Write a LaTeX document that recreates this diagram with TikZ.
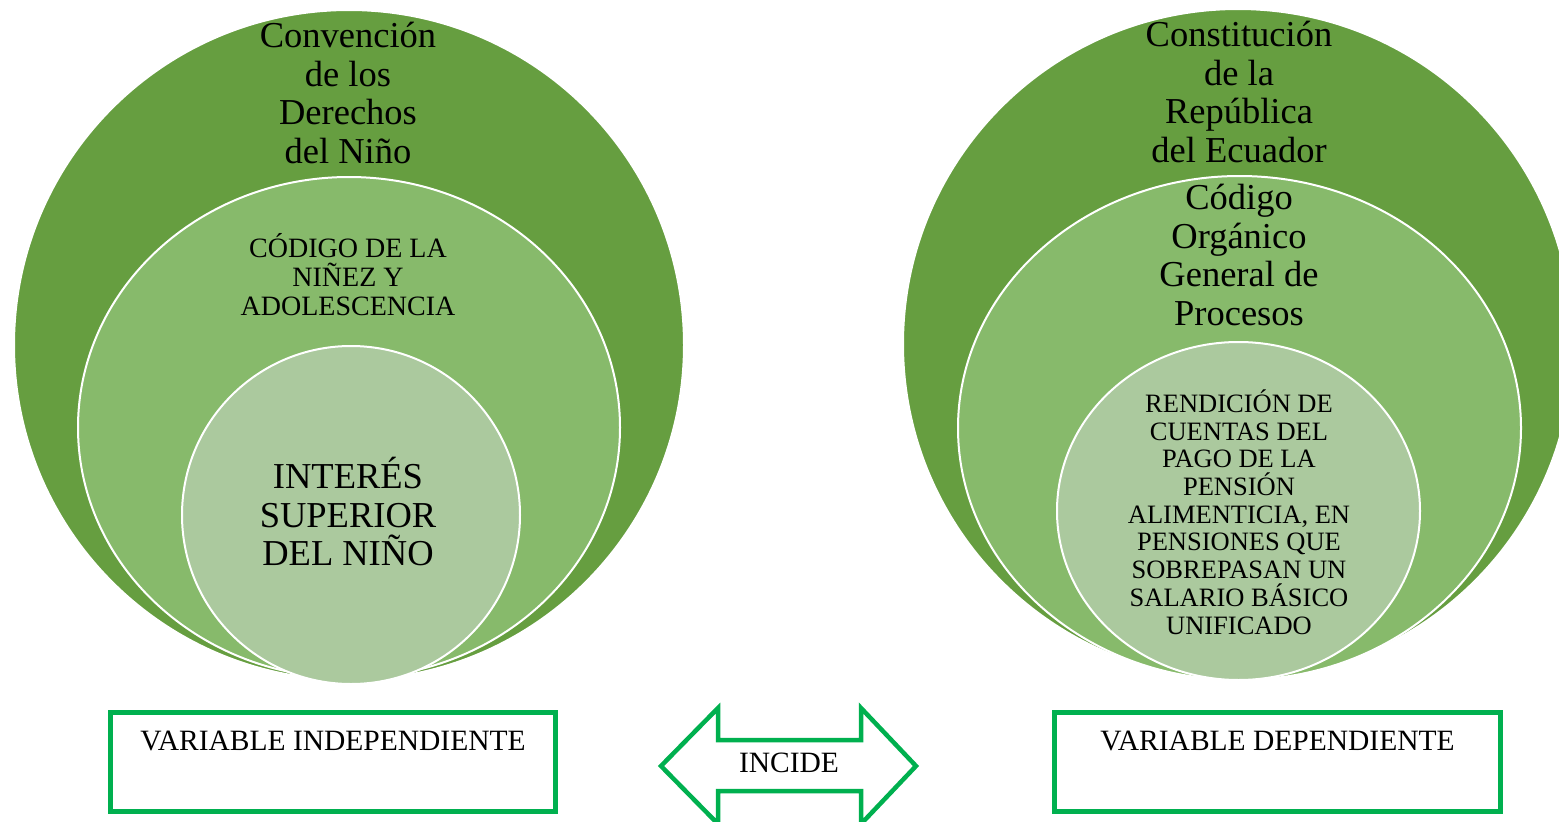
\documentclass[tikz,border=0pt]{standalone}
\usepackage{fontspec}
\setmainfont{Liberation Serif}
\usepackage{xcolor}
\usepackage{tikz}
\usetikzlibrary{shapes.geometric}
\definecolor{myDarkGreen}{rgb}{0.40,0.62,0.25}
\definecolor{myMidGreen}{rgb}{0.53,0.73,0.42}
\definecolor{myLightGreen}{rgb}{0.67,0.79,0.62}
\definecolor{myBoxGreen}{rgb}{0.0,0.69,0.31}

\begin{document}
\begin{tikzpicture}[x=1pt,y=-1pt,semithick]
  \tikzstyle{ring}=[ellipse,draw=white,line width=2pt,inner sep=0pt]
  \tikzstyle{outer}=[ring,fill=myDarkGreen]
  \tikzstyle{middle}=[ring,fill=myMidGreen]
  \tikzstyle{inner}=[ring,fill=myLightGreen]
  \tikzstyle{big}=[align=center,inner sep=0pt,font=\fontsize{36.5}{38.5}\selectfont]
  \tikzstyle{mid}=[align=center,inner sep=0pt,font=\fontsize{28}{29}\selectfont]
  \tikzstyle{small}=[align=center,inner sep=0pt,font=\fontsize{26.5}{27.7}\selectfont]
  \tikzstyle{varbox}=[rectangle,draw=myBoxGreen,line width=5pt,fill=white]
  \tikzstyle{vartext}=[inner sep=0pt,font=\fontsize{29.5}{31}\selectfont]

  \clip (0,0) rectangle (1559,822);

  % left circles
  \node[outer,  minimum width=670pt, minimum height=670pt] (convL) at (349,345) {};
  \node[middle, minimum width=542pt, minimum height=501pt] (codL)  at (349,427.5) {};
  \node[inner,  minimum width=338pt, minimum height=338pt] (intL)  at (351,515) {};

  \node[big]   (convT) at (348,93)  {Convención\\de los\\Derechos\\del Niño};
  \node[mid]   (codT)  at (348,275) {CÓDIGO DE LA\\NIÑEZ Y\\ADOLESCENCIA};
  \node[big]   (intT)  at (348,512) {INTERÉS\\SUPERIOR\\DEL NIÑO};

  % right circles
  \node[outer,  minimum width=670pt, minimum height=670pt] (conR) at (1238,344) {};
  \node[middle, minimum width=563pt, minimum height=504pt] (cogR) at (1239.5,428) {};
  \node[inner,  minimum width=363pt, minimum height=338pt] (renR) at (1238.5,511) {};

  \node[big]   (conT) at (1239,92)  {Constitución\\de la\\República\\del Ecuador};
  \node[big]   (cogT) at (1239,255) {Código\\Orgánico\\General de\\Procesos};
  \node[small] (renT) at (1239,512) {RENDICIÓN DE\\CUENTAS DEL\\PAGO DE LA\\PENSIÓN\\ALIMENTICIA, EN\\PENSIONES QUE\\SOBREPASAN UN\\SALARIO BÁSICO\\UNIFICADO};

  % variables
  \node[varbox, minimum width=445pt, minimum height=99pt] (indep) at (333,762) {};
  \node[vartext] (indepT) at (333,741) {VARIABLE INDEPENDIENTE};
  \node[varbox, minimum width=446pt, minimum height=99pt] (dep) at (1277.5,762) {};
  \node[vartext] (depT) at (1277.5,741) {VARIABLE DEPENDIENTE};

  % double arrow
  \draw[draw=myBoxGreen,line width=4.5pt,fill=white,line join=miter]
    (661,766) -- (718,708) -- (718,740) -- (861,740) -- (861,708) -- (916,766)
    -- (861,824) -- (861,791) -- (718,791) -- (718,824) -- cycle;
  \node[vartext] (incide) at (789,763) {INCIDE};
\end{tikzpicture}
\end{document}
